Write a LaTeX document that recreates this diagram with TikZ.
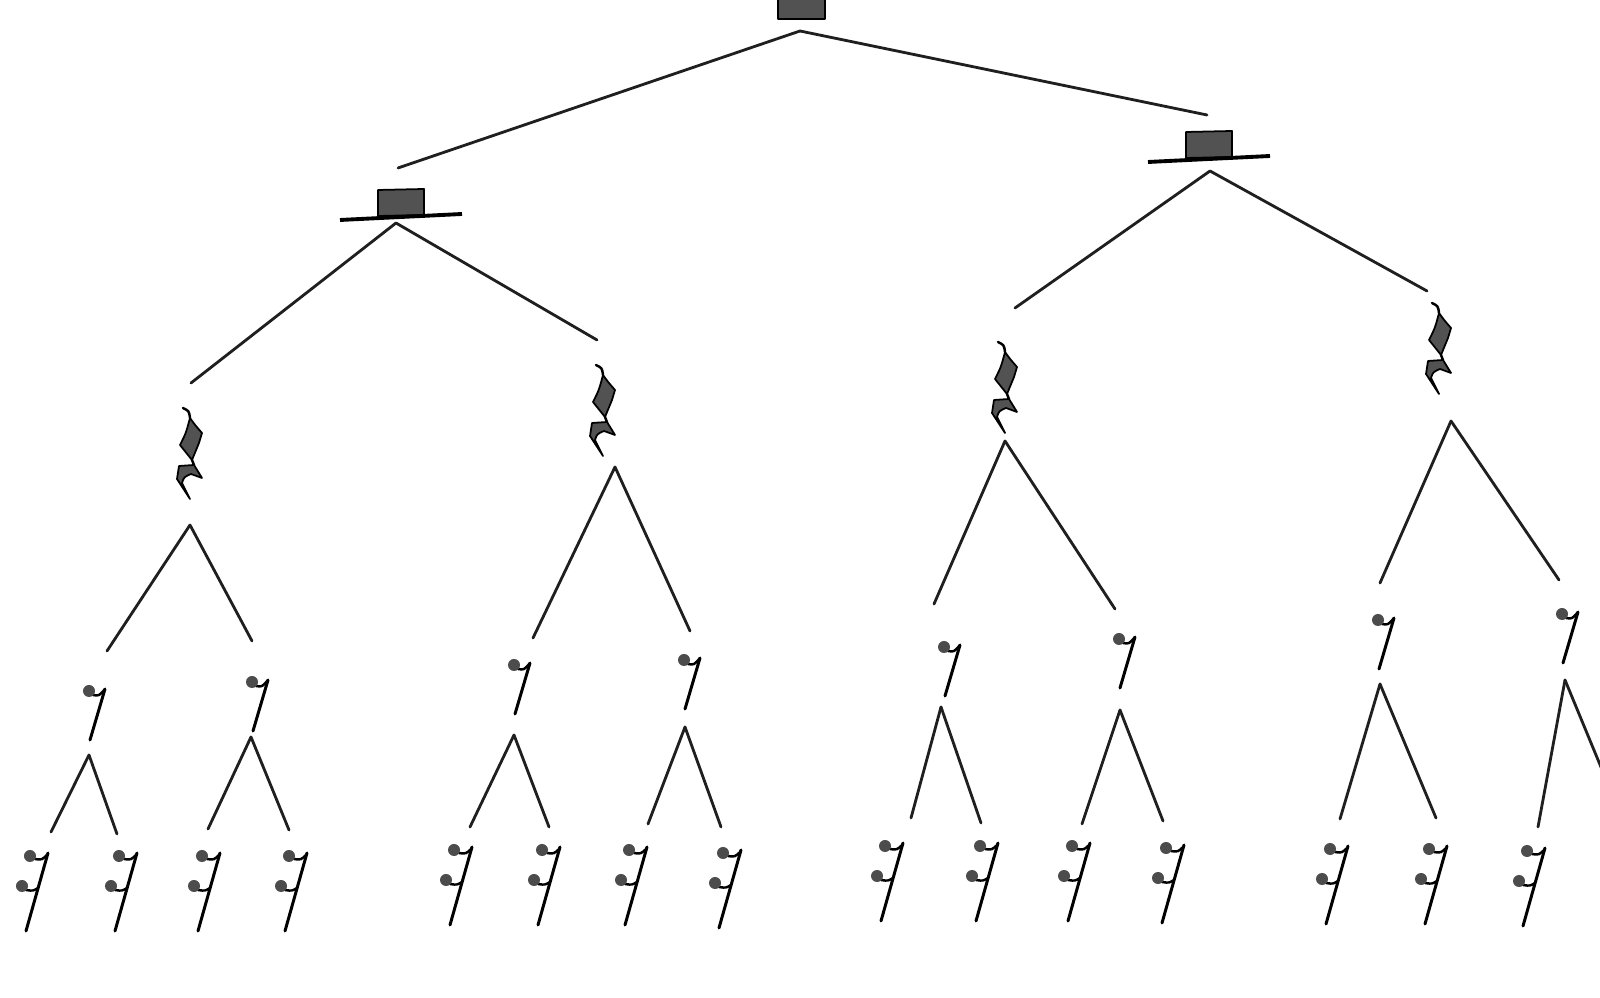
\documentclass[tikz,border=0pt]{standalone}
\begin{document}
\begin{tikzpicture}[x=0.01cm,y=-0.01cm,
  conn/.style={draw=black!88, line width=0.8pt, line cap=round},
  glyph/.style={fill=black!68, draw=black, line width=0.5pt, line join=round},
  stemline/.style={draw=black, line width=0.85pt, line cap=round},
  flagline/.style={draw=black, line width=0.7pt, line cap=round},
  halfrest/.pic={
    \draw[glyph] (-23,-1) -- (-23,-27) -- (23,-28) -- (23,-2) -- cycle;
    \draw[black, line width=1.1pt] (-61,3) -- (61,-3);
  },
  quarterrest/.pic={
    \draw[flagline] (0,0) .. controls (6,3) .. (7,10);
    \draw[glyph] (7,10) .. controls (12,17) .. (19,25) -- (16,35) -- (9,52) -- (-3,37) .. controls (3,25) .. cycle;
    \draw[flagline] (9,52) -- (11,57);
    \draw[glyph] (-4,58) -- (11,57) -- (19,70) -- (8,66) .. controls (1,69) .. (-1,75) -- (7,91) -- (-6,71) -- cycle;
  },
  eighthrest/.pic={
    \draw[stemline] (0,0) -- (-15,51);
    \draw[flagline] (-12,6) .. controls (-6,7) .. (0,0);
    \fill[black!70] (-16,2) circle (0.06cm);
  },
  sixteenthrest/.pic={
    \draw[stemline] (0,0) -- (-22,78);
    \draw[flagline] (-13,6) .. controls (-6,7) .. (0,1);
    \draw[flagline] (-22,37) .. controls (-15,38) .. (-10,35);
    \fill[black!70] (-18,3) circle (0.06cm);
    \fill[black!70] (-26,33) circle (0.06cm);
  }
]
\useasboundingbox (0,0) rectangle (1600,998);
\clip (0,0) rectangle (1600,998);
\fill[white] (0,0) rectangle (1600,998);

% whole rest
\draw[glyph] (778,-5) rectangle (825,19);
\coordinate (W) at (800,31);
\coordinate (W1) at (398,168);
\coordinate (W2) at (1207,115);
\draw[conn] (W) -- (W1);
\draw[conn] (W) -- (W2);

% half rests
\pic at (401,217) {halfrest};
\pic at (1209,159) {halfrest};
\coordinate (H1) at (396,223);
\coordinate (H2) at (1210,171);
\coordinate (H1a) at (191,383);
\coordinate (H1b) at (597,340);
\coordinate (H2a) at (1015,308);
\coordinate (H2b) at (1427,291);
\draw[conn] (H1) -- (H1a);
\draw[conn] (H1) -- (H1b);
\draw[conn] (H2) -- (H2a);
\draw[conn] (H2) -- (H2b);

% quarter rests
\foreach \x/\y in {183/408, 596/365, 998/342, 1432/303}
  \pic at (\x,\y) {quarterrest};
\coordinate (Q1) at (190,525);
\coordinate (Q2) at (615,467);
\coordinate (Q3) at (1005,441);
\coordinate (Q4) at (1451,421);
\coordinate (Q1a) at (107,651); \coordinate (Q1b) at (252,641);
\coordinate (Q2a) at (533,638); \coordinate (Q2b) at (690,631);
\coordinate (Q3a) at (934,604); \coordinate (Q3b) at (1115,609);
\coordinate (Q4a) at (1380,583); \coordinate (Q4b) at (1559,580);
\foreach \q in {Q1,Q2,Q3,Q4}{
  \draw[conn] (\q) -- (\q a);
  \draw[conn] (\q) -- (\q b);
}

% eighth rests
\foreach \x/\y in {105/689, 268/680, 530/663, 700/658, 960/645, 1135/637, 1394/618, 1578/612}
  \pic at (\x,\y) {eighthrest};
\coordinate (E1) at (89,755);
\coordinate (E2) at (251,737);
\coordinate (E3) at (514,735);
\coordinate (E4) at (685,727);
\coordinate (E5) at (941,707);
\coordinate (E6) at (1120,710);
\coordinate (E7) at (1380,684);
\coordinate (E8) at (1565,680);
\coordinate (E1a) at (51,832);  \coordinate (E1b) at (117,834);
\coordinate (E2a) at (208,829); \coordinate (E2b) at (289,830);
\coordinate (E3a) at (470,827); \coordinate (E3b) at (549,827);
\coordinate (E4a) at (648,824); \coordinate (E4b) at (721,827);
\coordinate (E5a) at (911,818); \coordinate (E5b) at (981,823);
\coordinate (E6a) at (1082,824); \coordinate (E6b) at (1163,821);
\coordinate (E7a) at (1340,819); \coordinate (E7b) at (1436,818);
\coordinate (E8a) at (1538,827); \coordinate (E8b) at (1622,818);
\foreach \e in {E1,E2,E3,E4,E5,E6,E7,E8}{
  \draw[conn] (\e) -- (\e a);
  \draw[conn] (\e) -- (\e b);
}

% sixteenth rests
\foreach \x/\y in {48/853, 137/853, 220/853, 307/853, 472/847, 560/847, 647/847, 741/850,
                   903/843, 998/843, 1090/843, 1184/845, 1348/846, 1447/846, 1545/848}
  \pic at (\x,\y) {sixteenthrest};
\end{tikzpicture}
\end{document}
